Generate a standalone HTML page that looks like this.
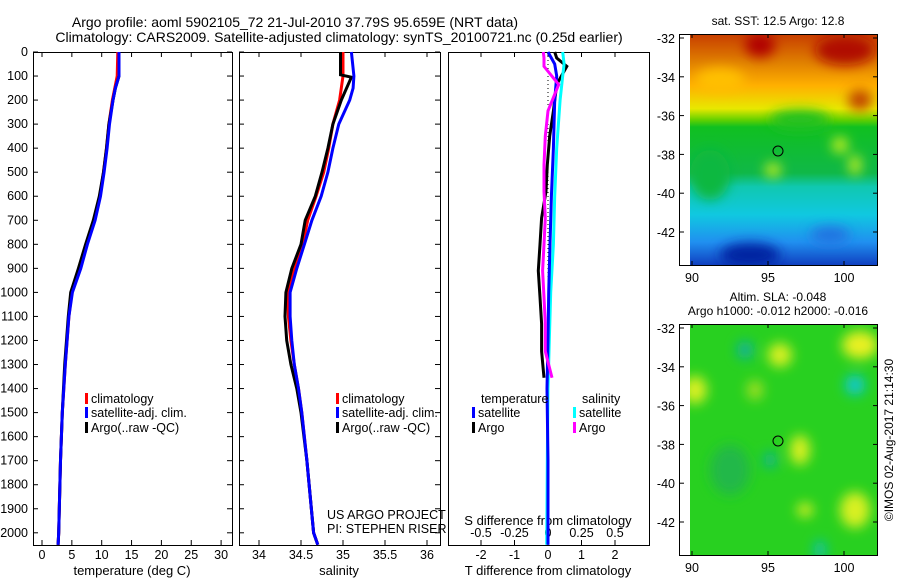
<!DOCTYPE html>
<html><head><meta charset="utf-8"><style>
html,body{margin:0;padding:0;background:#fff;}
svg{display:block;font-family:"Liberation Sans",sans-serif;}
</style></head><body>
<svg id="c" width="900" height="580" xmlns="http://www.w3.org/2000/svg">
<defs>
<linearGradient id="sstGrad" x1="0" y1="0" x2="0" y2="1">
<stop offset="0" stop-color="#c84000"/><stop offset="0.12" stop-color="#e08000"/><stop offset="0.22" stop-color="#ffb000"/><stop offset="0.32" stop-color="#e8e800"/><stop offset="0.37" stop-color="#60d000"/><stop offset="0.4" stop-color="#10c020"/><stop offset="0.6" stop-color="#10b848"/><stop offset="0.66" stop-color="#10c8b0"/><stop offset="0.78" stop-color="#10c8e0"/><stop offset="0.9" stop-color="#2090f0"/><stop offset="1" stop-color="#1040c0"/>
</linearGradient>
<filter id="blur6"><feGaussianBlur stdDeviation="6"/></filter>
<clipPath id="clip1"><rect x="690" y="35" width="187" height="230"/></clipPath>
<clipPath id="clip2"><rect x="690" y="325" width="187" height="230"/></clipPath>
</defs>
<g id="titles" font-size="14">
<text x="295" y="27" text-anchor="middle">Argo profile: aoml 5902105_72 21-Jul-2010 37.79S 95.659E (NRT data)</text>
<text x="339" y="42" text-anchor="middle">Climatology: CARS2009. Satellite-adjusted climatology: synTS_20100721.nc (0.25d earlier)</text>
</g>
<g>
<text x="778" y="25" text-anchor="middle" font-size="12">sat. SST: 12.5 Argo: 12.8</text>
<g clip-path="url(#clip1)">
<rect x="690" y="35" width="187" height="230" fill="url(#sstGrad)"/>
<g filter="url(#blur6)">
<ellipse cx="760" cy="45" rx="15" ry="12" fill="#b00000"/>
<ellipse cx="845" cy="50" rx="30" ry="15" fill="#b01000"/>
<ellipse cx="860" cy="100" rx="12" ry="10" fill="#c04000"/>
<ellipse cx="720" cy="80" rx="25" ry="12" fill="#ffc000"/>
<ellipse cx="840" cy="145" rx="8" ry="8" fill="#c8f020"/>
<ellipse cx="855" cy="165" rx="6" ry="10" fill="#c8f020"/>
<ellipse cx="773" cy="170" rx="8" ry="7" fill="#c8f020"/>
<ellipse cx="710" cy="175" rx="20" ry="25" fill="#10b840"/>
<ellipse cx="800" cy="120" rx="30" ry="10" fill="#20c020"/>
<ellipse cx="750" cy="255" rx="30" ry="12" fill="#0020a0"/>
<ellipse cx="830" cy="235" rx="20" ry="8" fill="#2070e0"/>
</g></g>
<circle cx="778" cy="151" r="5" fill="none" stroke="#000" stroke-width="1"/>
<rect x="679.5" y="34.5" width="198" height="231" fill="none" stroke="#000"/>
</g>
<g>
<text x="778" y="301" text-anchor="middle" font-size="12">Altim. SLA: -0.048</text>
<text x="778" y="315" text-anchor="middle" font-size="12">Argo h1000: -0.012 h2000: -0.016</text>
<g clip-path="url(#clip2)">
<rect x="690" y="325" width="187" height="230" fill="#28d020"/>
<g filter="url(#blur6)">
<ellipse cx="745" cy="350" rx="8" ry="9" fill="#10b0a0"/>
<ellipse cx="780" cy="355" rx="12" ry="12" fill="#d8f020"/>
<ellipse cx="860" cy="345" rx="18" ry="14" fill="#e8f020"/>
<ellipse cx="855" cy="385" rx="10" ry="10" fill="#10c8d0"/>
<ellipse cx="695" cy="390" rx="12" ry="14" fill="#d8f020"/>
<ellipse cx="755" cy="390" rx="8" ry="10" fill="#a0e020"/>
<ellipse cx="800" cy="450" rx="10" ry="15" fill="#d8f020"/>
<ellipse cx="770" cy="460" rx="6" ry="8" fill="#10b0a0"/>
<ellipse cx="855" cy="510" rx="15" ry="18" fill="#d8f020"/>
<ellipse cx="805" cy="510" rx="8" ry="7" fill="#d8f020"/>
<ellipse cx="820" cy="550" rx="6" ry="10" fill="#10c0b0"/>
<ellipse cx="730" cy="470" rx="20" ry="25" fill="#20b848"/>
</g></g>
<circle cx="778" cy="441" r="5" fill="none" stroke="#000" stroke-width="1"/>
<rect x="679.5" y="324.5" width="198" height="231" fill="none" stroke="#000"/>
</g>
<text transform="translate(893,440) rotate(-90)" text-anchor="middle" font-size="12">©IMOS 02-Aug-2017 21:14:30</text>
<g id="plots"></g>
</svg>
<script>
// ---- data ----
const tDepth = [0,100,150,200,300,400,500,600,700,800,900,1000,1100,1200,1300,1500,1700,2000,2050];
const tempClim = [12.7,12.6,12.2,11.8,11.2,10.8,10.3,9.7,8.8,7.5,6.4,5.0,4.5,4.2,3.9,3.4,3.1,2.8,2.7];
const tempSat =  [12.9,12.9,12.3,11.9,11.3,10.9,10.4,9.8,8.9,7.6,6.5,5.1,4.5,4.2,3.9,3.4,3.1,2.8,2.7];
const tempArgo = [12.9,12.9,12.3,11.9,11.2,10.8,10.3,9.6,8.6,7.3,6.1,4.8,4.4,4.1,3.8,3.4,3.1,2.8,2.7];
const argoDepthT = [0,100,150,200,300,400,500,600,700,800,900,1000,1100,1200,1300,1500,1700,2000,2050];
const sDepth = [0,100,150,200,300,400,500,600,700,800,900,1000,1100,1200,1300,1400,1500,1700,2000,2050];
const salClim = [35.0,35.0,34.98,34.96,34.88,34.83,34.77,34.68,34.58,34.52,34.42,34.34,34.35,34.38,34.42,34.47,34.51,34.57,34.65,34.7];
const salSat  = [35.1,35.13,35.12,35.08,34.95,34.88,34.82,34.74,34.63,34.54,34.45,34.37,34.37,34.39,34.42,34.47,34.51,34.57,34.65,34.7];
const salArgo = [34.97,34.97,35.1,34.98,34.88,34.82,34.75,34.67,34.55,34.5,34.39,34.32,34.31,34.33,34.38,34.45,34.5,34.57,34.65,34.7];
const argoDepthS = [0,95,105,200,300,400,500,600,700,800,900,1000,1100,1200,1300,1400,1500,1700,2000,2050];
const diffDepthArgo = [0,25,60,135,245,350,470,580,690,800,910,1020,1130,1245,1355];
const tDiffArgo = [0.2,0.26,0.56,0.26,0.16,0.05,-0.02,-0.06,-0.19,-0.24,-0.29,-0.24,-0.19,-0.19,-0.12];
const sDiffArgo = [-0.035,-0.03,-0.03,0.08,0.0,-0.02,-0.03,-0.03,-0.02,-0.03,-0.04,-0.03,-0.02,-0.02,0.03];
const diffDepthSat = [0,50,100,200,400,600,800,1000,1200,1400,1700,2050];
const tDiffSat = [0.0,0.2,0.26,0.2,0.16,0.1,0.06,0.02,0.0,-0.03,0.0,0.0];
const sDiffSat = [0.11,0.12,0.11,0.09,0.065,0.05,0.04,0.02,0.01,0.0,-0.005,-0.01];
const depthTicks = [0,100,200,300,400,500,600,700,800,900,1000,1100,1200,1300,1400,1500,1600,1700,1800,1900,2000];
const tempTicks = [0,5,10,15,20,25,30];
const salTicks = [34,34.5,35,35.5,36];
const tDiffTicks = [-2,-1,0,1,2];
const sDiffTicks = [-0.5,-0.25,0,0.25,0.5];
const sDiffTickLabels = ["-0.5","-0.25","0","0.25","0.5"];
const mapLatTicks = [-32,-34,-36,-38,-40,-42];
const mapLonTicks = [90,95,100];

// ---- axes ----
const NS = "http://www.w3.org/2000/svg";
const g = document.getElementById('plots');
const Y0 = 52, PXM = 0.2404, BOT = 545;
const y = d => Y0 + d * PXM;
const xT = v => 42 + v * 5.97;
const xS = v => 259 + (v - 34) * 84;
const xTD = v => 548 + v * 33.5;
const xSD = v => 548 + v * 134;
const latY1 = v => 38 + (-32 - v) * 19.4;
const latY2 = v => 328 + (-32 - v) * 19.4;
const lonX = v => 692 + (v - 90) * 15.2;
function el(tag, attrs, parent) { const e = document.createElementNS(NS, tag); for (const k in attrs) e.setAttribute(k, attrs[k]); (parent || g).appendChild(e); return e; }
function txt(x, yy, s, anchor, size, name) {
  const t = el('text', {x: x, y: yy, 'text-anchor': anchor, 'font-size': size});
  t.textContent = s;
  
  
  return t;
}
function line(xf, depths, vals, color, w, name) {
  const pts = vals.map((v, i) => xf(v).toFixed(1) + ',' + y(depths[i]).toFixed(1)).join(' ');
  const p = el('polyline', {points: pts, fill: 'none', stroke: color, 'stroke-width': w, 'stroke-linejoin': 'miter'});
  
  
}
const panels = [[33, 232], [239, 440], [448, 649]];
panels.forEach((p, i) => {
  const r = el('rect', {x: p[0] + 0.5, y: Y0 + 0.5, width: p[1] - p[0], height: BOT - Y0, fill: 'none', stroke: '#000'});
  
  
  if (i < 2) depthTicks.forEach(d => {
    el('line', {x1: p[0], x2: p[0] + 5, y1: y(d), y2: y(d), stroke: '#000'});
    el('line', {x1: p[1] - 5, x2: p[1], y1: y(d), y2: y(d), stroke: '#000'});
  });
});
depthTicks.forEach(d => txt(28, y(d) + 4, String(d), 'end', 12.5, 'depth-tick-label'));
tempTicks.forEach(v => { el('line', {x1: xT(v), x2: xT(v), y1: Y0, y2: Y0 + 5, stroke: '#000'}); el('line', {x1: xT(v), x2: xT(v), y1: BOT - 5, y2: BOT, stroke: '#000'}); txt(xT(v), 559, String(v), 'middle', 12.5, 'temp-tick-label'); });
salTicks.forEach(v => { el('line', {x1: xS(v), x2: xS(v), y1: Y0, y2: Y0 + 5, stroke: '#000'}); el('line', {x1: xS(v), x2: xS(v), y1: BOT - 5, y2: BOT, stroke: '#000'}); txt(xS(v), 559, String(v), 'middle', 12.5, 'salinity-tick-label'); });
tDiffTicks.forEach(v => { el('line', {x1: xTD(v), x2: xTD(v), y1: Y0, y2: Y0 + 5, stroke: '#000'}); el('line', {x1: xTD(v), x2: xTD(v), y1: BOT - 5, y2: BOT, stroke: '#000'}); txt(xTD(v), 559, String(v), 'middle', 12.5, 'tdiff-tick-label'); });
sDiffTicks.forEach((v, i) => txt(xSD(v), 537, sDiffTickLabels[i], 'middle', 12.5, 'sdiff-tick-label'));
txt(132, 575, 'temperature (deg C)', 'middle', 13, 'x-axis-title-temperature');
txt(339, 575, 'salinity', 'middle', 13, 'x-axis-title-salinity');
txt(548, 575, 'T difference from climatology', 'middle', 13, 'x-axis-title-tdiff');
txt(548, 525, 'S difference from climatology', 'middle', 13, 'x-axis-title-sdiff');
el('line', {x1: 548, x2: 548, y1: Y0, y2: BOT, stroke: '#000', 'stroke-dasharray': '1,3'});
line(xT, tDepth, tempClim, '#f00', 3, 'temp-climatology-line');
line(xT, argoDepthT, tempArgo, '#000', 3, 'temp-argo-line');
line(xT, tDepth, tempSat, '#00f', 3, 'temp-satellite-line');
line(xS, sDepth, salClim, '#f00', 3, 'sal-climatology-line');
line(xS, argoDepthS, salArgo, '#000', 3, 'sal-argo-line');
line(xS, sDepth, salSat, '#00f', 3, 'sal-satellite-line');
line(xTD, diffDepthArgo, tDiffArgo, '#000', 3, 'tdiff-argo-line');
line(xSD, diffDepthSat, sDiffSat, '#0ff', 3, 'sdiff-satellite-line');
line(xTD, diffDepthSat, tDiffSat, '#00f', 3, 'tdiff-satellite-line');
line(xSD, diffDepthArgo, sDiffArgo, '#f0f', 3, 'sdiff-argo-line');
function leg(x, yy, color, label, name) {
  const r = el('rect', {x: x, y: yy - 10, width: 3, height: 11, fill: color});
  
  
  txt(x + 6, yy, label, 'start', 12.5, name);
}
leg(85, 403, '#f00', 'climatology', 'legend-climatology');
leg(85, 417, '#00f', 'satellite-adj. clim.', 'legend-satellite-adj');
leg(85, 432, '#000', 'Argo(..raw -QC)', 'legend-argo');
leg(336, 403, '#f00', 'climatology', 'legend-climatology-2');
leg(336, 417, '#00f', 'satellite-adj. clim.', 'legend-satellite-adj-2');
leg(336, 432, '#000', 'Argo(..raw -QC)', 'legend-argo-2');
txt(481, 403, 'temperature', 'start', 12.5, 'legend-temperature-heading');
txt(582, 403, 'salinity', 'start', 12.5, 'legend-salinity-heading');
leg(472, 417, '#00f', 'satellite', 'legend-t-satellite');
leg(472, 432, '#000', 'Argo', 'legend-t-argo');
leg(573, 417, '#0ff', 'satellite', 'legend-s-satellite');
leg(573, 432, '#f0f', 'Argo', 'legend-s-argo');
txt(327, 519, 'US ARGO PROJECT', 'start', 12.5, 'project-label');
txt(327, 533, 'PI: STEPHEN RISER', 'start', 12.5, 'pi-label');
[latY1, latY2].forEach((fy, k) => {
  const top = k ? 324 : 34, bot = k ? 555 : 265;
  mapLatTicks.forEach(v => { el('line', {x1: 679, x2: 684, y1: fy(v), y2: fy(v), stroke: '#000'}); el('line', {x1: 873, x2: 878, y1: fy(v), y2: fy(v), stroke: '#000'}); txt(675, fy(v) + 5, String(v), 'end', 12.5, 'map-lat-tick-label'); });
  mapLonTicks.forEach(v => { el('line', {x1: lonX(v), x2: lonX(v), y1: bot - 4, y2: bot, stroke: '#000'}); el('line', {x1: lonX(v), x2: lonX(v), y1: top, y2: top + 4, stroke: '#000'}); txt(lonX(v), bot + 17, String(v), 'middle', 12.5, 'map-lon-tick-label'); });
});
</script>
</body></html>
